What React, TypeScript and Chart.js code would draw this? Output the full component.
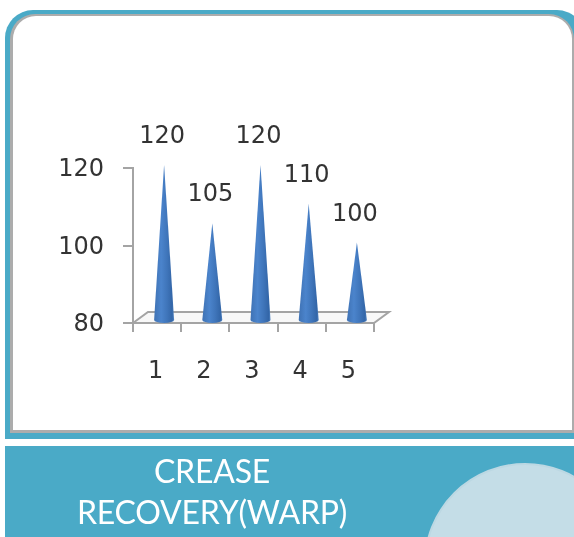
import React, { useEffect, useRef } from "react";
import { Chart, registerables } from "chart.js";

Chart.register(...registerables);

const categories = ["1", "2", "3", "4", "5"];
const values = [120, 105, 120, 110, 100];
const yTicks = [80, 100, 120];
const titleLines = ["CREASE", "RECOVERY(WARP)"];

const TEXT = "#333333";
const AXIS = "#a4a4a4";
const FONT = "'DejaVu Sans'";

const conePlugin = {
  id: "cones",
  beforeDatasetsDraw(chart: any) {
    const { ctx, chartArea: a } = chart;
    ctx.save();
    ctx.beginPath();
    ctx.moveTo(a.left, a.bottom);
    ctx.lineTo(a.left + 15, a.bottom - 11);
    ctx.lineTo(a.right + 15, a.bottom - 11);
    ctx.lineTo(a.right, a.bottom);
    ctx.closePath();
    ctx.fillStyle = "#f8f8f8";
    ctx.fill();
    ctx.strokeStyle = AXIS;
    ctx.lineWidth = 2;
    ctx.stroke();
    ctx.restore();
  },
  afterDatasetsDraw(chart: any) {
    const { ctx } = chart;
    const meta = chart.getDatasetMeta(0);
    const baseY = chart.scales.y.getPixelForValue(yTicks[0]) - 3;
    meta.data.forEach((bar: any, i: number) => {
      const cx = bar.x + 7;
      const tip = bar.y - 3;
      const hw = 10;
      const g = ctx.createLinearGradient(cx - hw, 0, cx + hw, 0);
      g.addColorStop(0, "#3f72b4");
      g.addColorStop(0.35, "#4b84cc");
      g.addColorStop(0.65, "#3f75ba");
      g.addColorStop(0.9, "#3366a8");
      g.addColorStop(1, "#4f82c0");
      ctx.save();
      ctx.beginPath();
      ctx.moveTo(cx, tip);
      ctx.lineTo(cx + hw, baseY);
      ctx.ellipse(cx, baseY, hw, 3, 0, 0, Math.PI);
      ctx.closePath();
      ctx.fillStyle = g;
      ctx.fill();
      ctx.fillStyle = TEXT;
      ctx.font = `24px ${FONT}`;
      ctx.textAlign = "center";
      ctx.textBaseline = "middle";
      ctx.fillText(String(values[i]), bar.x + 5, bar.y - 31);
      ctx.restore();
    });
  },
};

const abs = (left: number, top: number, width: number, height: number): React.CSSProperties => ({
  position: "absolute",
  left,
  top,
  width,
  height,
});

export default function App() {
  const ref = useRef<HTMLCanvasElement>(null);
  useEffect(() => {
    const chart = new Chart(ref.current!, {
      type: "bar",
      data: {
        labels: categories,
        datasets: [{ data: values, backgroundColor: "transparent", borderWidth: 0 }],
      },
      plugins: [conePlugin],
      options: {
        animation: false,
        responsive: false,
        events: [],
        layout: { padding: { left: 0, top: 168, right: 200, bottom: 0 } },
        plugins: { legend: { display: false }, tooltip: { enabled: false }, title: { display: false } },
        scales: {
          x: {
            afterFit: (s: any) => {
              s.height = 214;
            },
            border: { color: AXIS, width: 2 },
            grid: { drawOnChartArea: false, color: AXIS, lineWidth: 2, tickLength: 9 },
            ticks: { color: TEXT, font: { family: FONT, size: 24 }, padding: 25, maxRotation: 0, labelOffset: -1.5 },
          },
          y: {
            min: yTicks[0],
            max: yTicks[yTicks.length - 1],
            afterFit: (s: any) => {
              s.width = 133;
            },
            border: { color: AXIS, width: 2 },
            grid: { drawOnChartArea: false, color: AXIS, lineWidth: 2, tickLength: 10 },
            ticks: { color: TEXT, font: { family: FONT, size: 24 }, padding: 19, stepSize: 20, labelOffset: 2 },
          },
        },
      },
    });
    return () => chart.destroy();
  }, []);

  return (
    <div style={{ ...abs(0, 0, 574, 537), overflow: "hidden", background: "#fff" }}>
      <div style={{ ...abs(5, 10, 580, 429), background: "#4aaac7", borderRadius: "28px 28px 0 0" }} />
      <div style={{ ...abs(10, 14, 564, 419), background: "#acacac", borderRadius: "25px 25px 0 0" }} />
      <div style={{ ...abs(13, 16, 559, 414), background: "#fff", borderRadius: "23px 23px 0 0" }} />
      <div style={{ ...abs(5, 446, 575, 91), background: "#4aaac7", overflow: "hidden" }}>
        <div
          style={{
            ...abs(419, 17, 202, 202),
            borderRadius: "50%",
            background: "#c4dde7",
            boxSizing: "border-box",
            border: "2px solid #bcd8e3",
          }}
        />
      </div>
      {titleLines.map((line, i) => (
        <div
          key={line}
          style={{
            ...abs(12, 450 + i * 41, 400, 42),
            textAlign: "center",
            color: "#fff",
            font: "32px/42px Lato, sans-serif",
            letterSpacing: "-0.2px",
            filter: "blur(0.5px)",
          }}
        >
          {line}
        </div>
      ))}
      <canvas ref={ref} width={574} height={537} style={{ ...abs(0, 0, 574, 537), filter: "blur(0.7px)" }} />
    </div>
  );
}
